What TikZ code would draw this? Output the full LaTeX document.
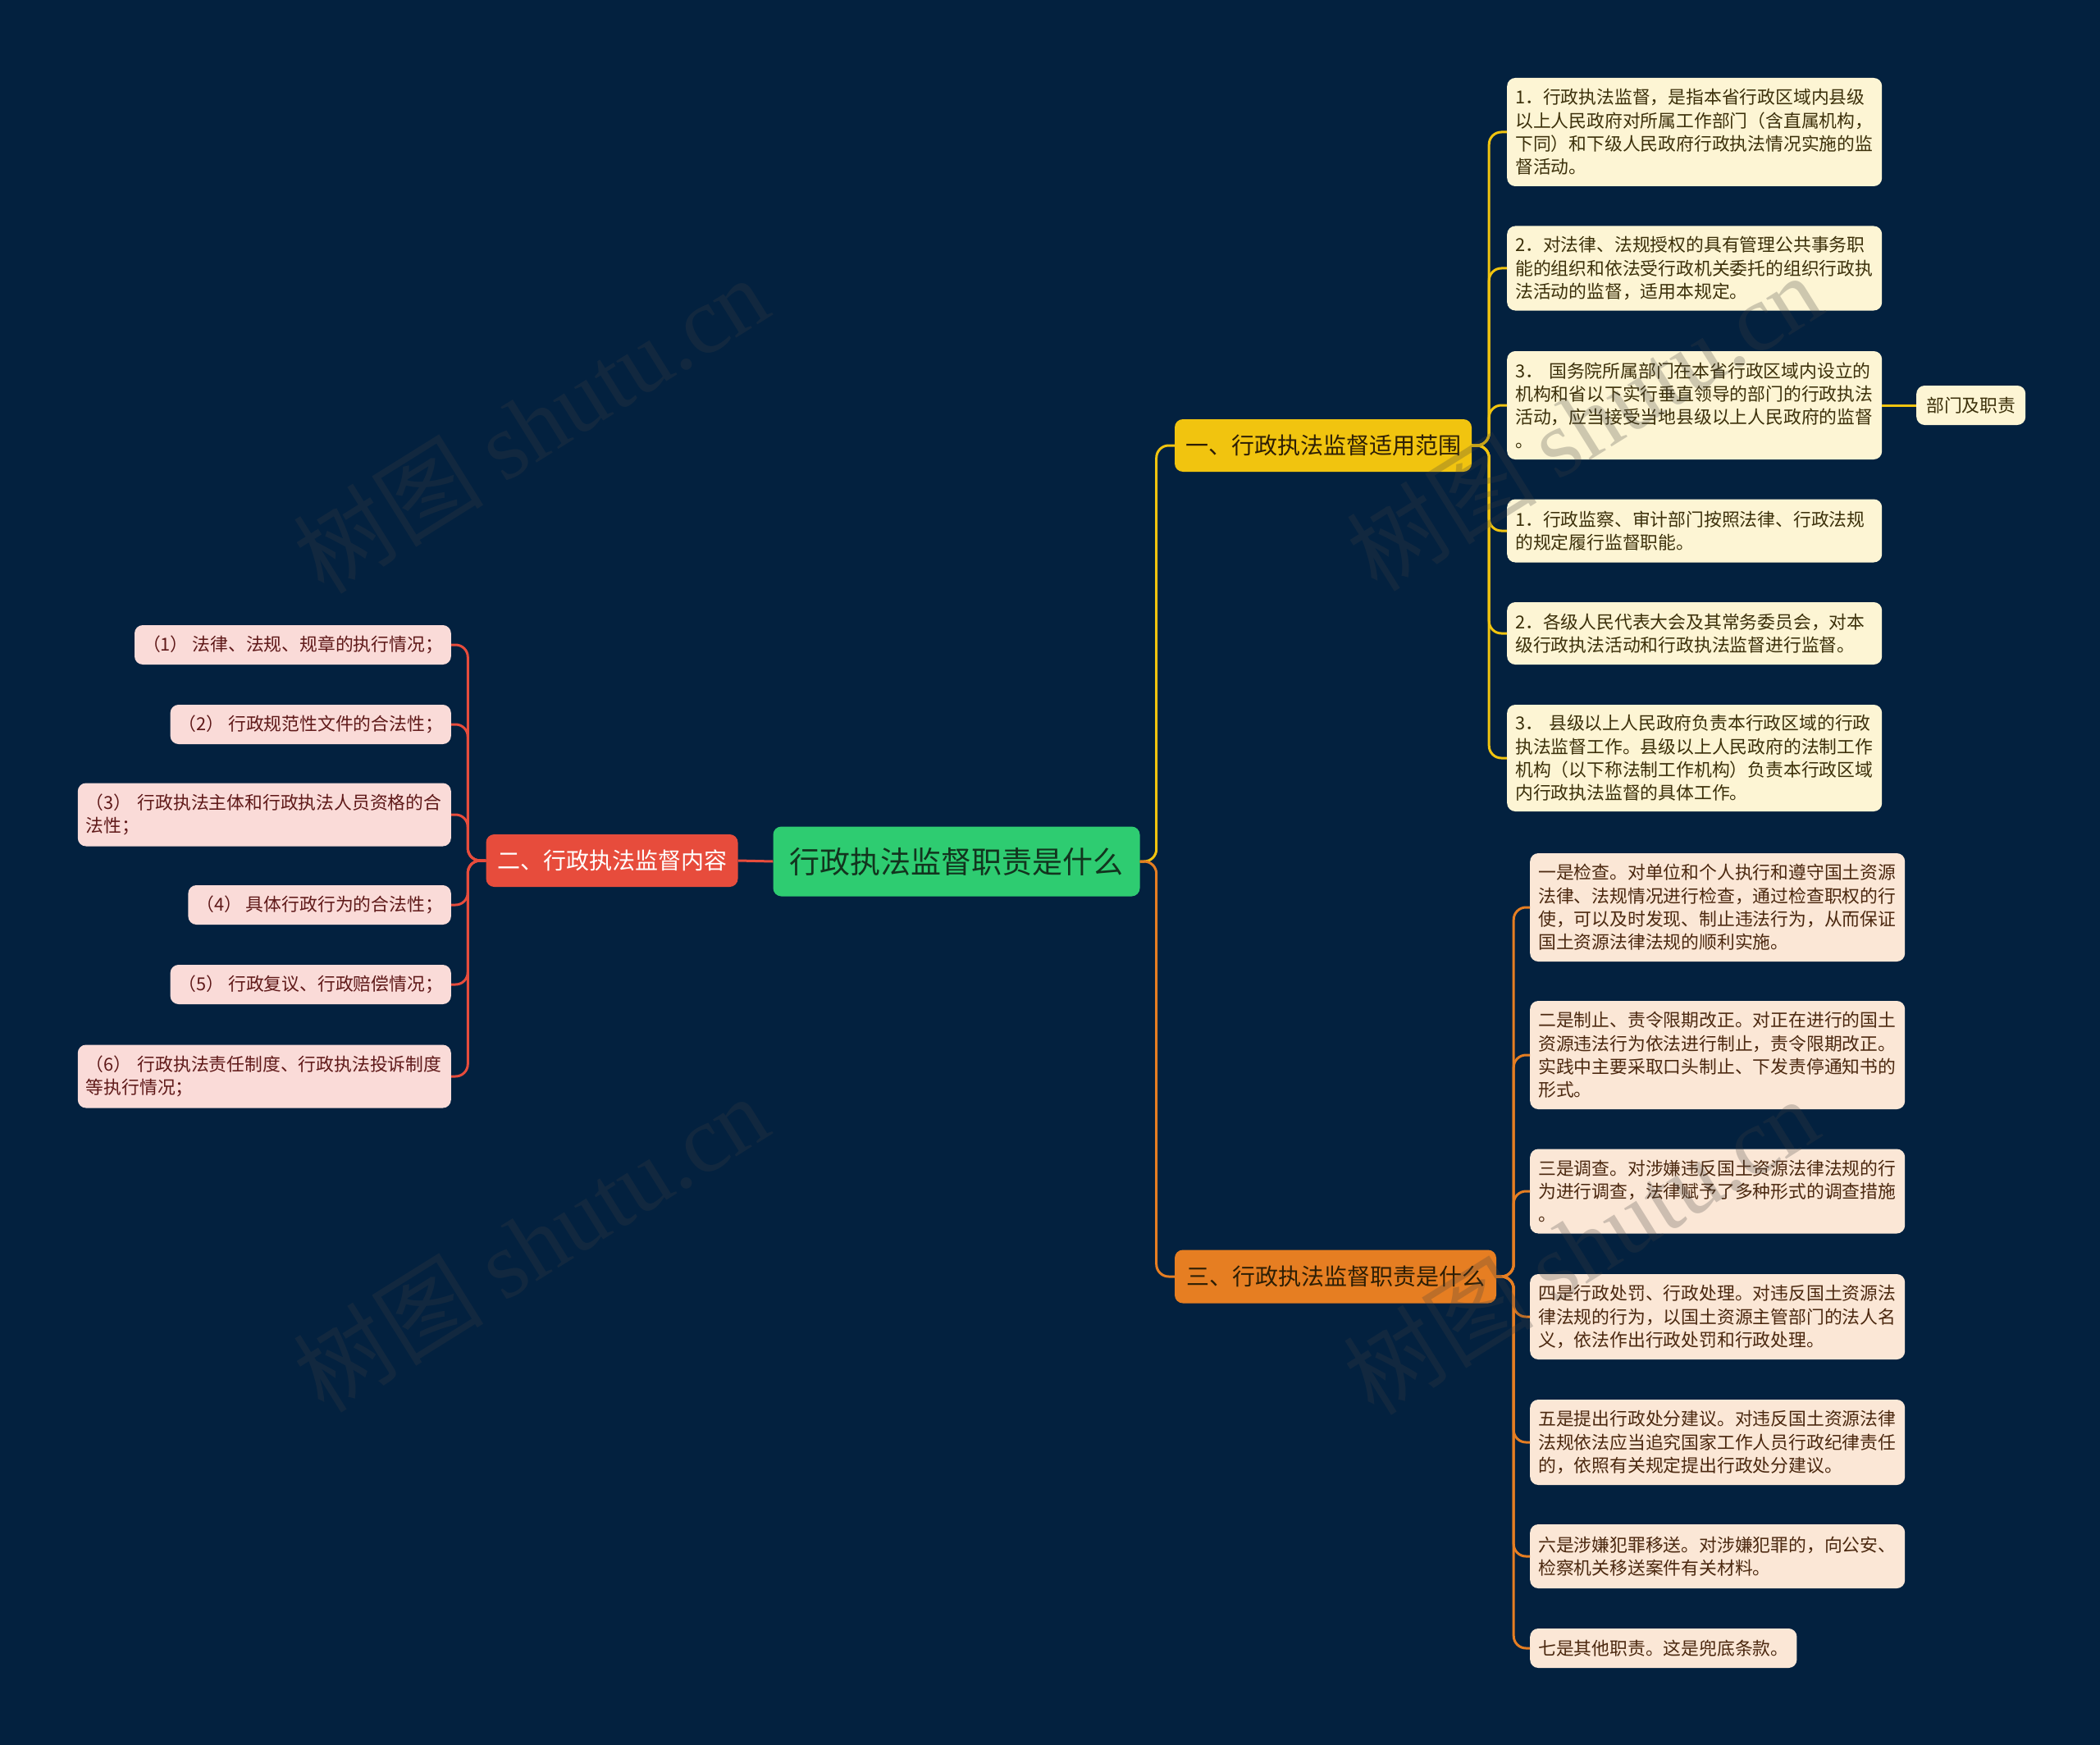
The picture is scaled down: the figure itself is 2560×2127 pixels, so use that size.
\documentclass[tikz,border=0pt]{standalone}
\usepackage{fontspec}
\newfontfamily\cjk{Noto Sans CJK SC}
\newfontfamily\wmserif{Liberation Serif}
\definecolor{bg}{RGB}{3,33,63}
\definecolor{rootc}{RGB}{46,204,113}
\definecolor{roottext}{RGB}{18,52,30}
\definecolor{yel}{RGB}{241,196,15}
\definecolor{ora}{RGB}{230,126,34}
\definecolor{redc}{RGB}{231,76,60}
\definecolor{yleaf}{RGB}{253,245,212}
\definecolor{oleaf}{RGB}{251,231,214}
\definecolor{pleaf}{RGB}{250,219,216}
\definecolor{ytext}{RGB}{60,48,10}
\definecolor{otext}{RGB}{75,40,15}
\definecolor{ptext}{RGB}{95,25,25}
\definecolor{btext}{RGB}{45,30,5}
\definecolor{wmc}{RGB}{64,64,64}
\begin{document}
\begin{tikzpicture}[x=1pt,y=-1pt,
  box/.style={rounded corners=10, inner ysep=0pt, font=\cjk},
  branch/.style={box, font=\cjk\fontsize{28}{34}\selectfont, minimum height=64},
  leaf/.style={box, font=\cjk\fontsize{21.8}{28.3}\selectfont, align=left, inner xsep=10},
  yl/.style={leaf, fill=yleaf, text=ytext, text width=437, anchor=west},
  ol/.style={leaf, fill=oleaf, text=otext, text width=437, anchor=west},
  pl/.style={leaf, fill=pleaf, text=ptext, anchor=east},
  plw/.style={pl, text width=435},
  conn/.style={line width=3, rounded corners=15},
  wm/.style={rotate=32, text=wmc, text opacity=0.25, font=\cjk\fontsize{116}{130}\selectfont}
]
\useasboundingbox (0,0) rectangle (2560,2127);
\fill[bg] (0,0) rectangle (2560,2127);

% root and branches
\node[box, fill=rootc, text=roottext, font=\cjk\fontsize{37}{44}\selectfont, minimum width=447, minimum height=85] (root) at (1166,1050) {行政执法监督职责是什么};
\node[branch, fill=yel, text=btext, minimum width=362] (b1) at (1613,543) {一、行政执法监督适用范围};
\node[branch, fill=ora, text=btext, minimum width=392, minimum height=65] (b3) at (1628,1556) {三、行政执法监督职责是什么};
\node[branch, fill=redc, text=white, minimum width=307] (b2) at (746,1049) {二、行政执法监督内容};

% branch 1 leaves
\node[yl, minimum height=132] (y1) at (1837,161) {1．行政执法监督，是指本省行政区域内县级\\以上人民政府对所属工作部门（含直属机构，\\下同）和下级人民政府行政执法情况实施的监\\督活动。};
\node[yl, minimum height=103] (y2) at (1837,327) {2．对法律、法规授权的具有管理公共事务职\\能的组织和依法受行政机关委托的组织行政执\\法活动的监督，适用本规定。};
\node[yl, minimum height=132] (y3) at (1837,494) {3． 国务院所属部门在本省行政区域内设立的\\机构和省以下实行垂直领导的部门的行政执法\\活动，应当接受当地县级以上人民政府的监督\\。};
\node[leaf, fill=yleaf, text=ytext, inner xsep=12, minimum height=48, anchor=west] (y3a) at (2336,494) {部门及职责};
\node[yl, minimum height=77] (y4) at (1837,647) {1．行政监察、审计部门按照法律、行政法规\\的规定履行监督职能。};
\node[yl, minimum height=76] (y5) at (1837,772) {2．各级人民代表大会及其常务委员会，对本\\级行政执法活动和行政执法监督进行监督。};
\node[yl, minimum height=130] (y6) at (1837,924) {3． 县级以上人民政府负责本行政区域的行政\\执法监督工作。县级以上人民政府的法制工作\\机构（以下称法制工作机构）负责本行政区域\\内行政执法监督的具体工作。};

% branch 3 leaves
\node[ol, minimum height=132] (o1) at (1865,1106) {一是检查。对单位和个人执行和遵守国土资源\\法律、法规情况进行检查，通过检查职权的行\\使，可以及时发现、制止违法行为，从而保证\\国土资源法律法规的顺利实施。};
\node[ol, minimum height=132] (o2) at (1865,1286) {二是制止、责令限期改正。对正在进行的国土\\资源违法行为依法进行制止，责令限期改正。\\实践中主要采取口头制止、下发责停通知书的\\形式。};
\node[ol, minimum height=103] (o3) at (1865,1452) {三是调查。对涉嫌违反国土资源法律法规的行\\为进行调查，法律赋予了多种形式的调查措施\\。};
\node[ol, minimum height=104] (o4) at (1865,1605) {四是行政处罚、行政处理。对违反国土资源法\\律法规的行为，以国土资源主管部门的法人名\\义，依法作出行政处罚和行政处理。};
\node[ol, minimum height=104] (o5) at (1865,1758) {五是提出行政处分建议。对违反国土资源法律\\法规依法应当追究国家工作人员行政纪律责任\\的，依照有关规定提出行政处分建议。};
\node[ol, minimum height=78] (o6) at (1865,1897) {六是涉嫌犯罪移送。对涉嫌犯罪的，向公安、\\检察机关移送案件有关材料。};
\node[leaf, fill=oleaf, text=otext, minimum height=48, anchor=west] (o7) at (1865,2009) {七是其他职责。这是兜底条款。};

% branch 2 leaves
\node[pl, minimum height=48] (p1) at (550,786) {（1） 法律、法规、规章的执行情况；};
\node[pl, minimum height=48] (p2) at (550,883) {（2） 行政规范性文件的合法性；};
\node[plw, minimum height=77] (p3) at (550,993) {（3） 行政执法主体和行政执法人员资格的合\\法性；};
\node[pl, minimum height=48] (p4) at (550,1103) {（4） 具体行政行为的合法性；};
\node[pl, minimum height=48] (p5) at (550,1200) {（5） 行政复议、行政赔偿情况；};
\node[plw, minimum height=77] (p6) at (550,1312) {（6） 行政执法责任制度、行政执法投诉制度\\等执行情况；};

% connectors root
\draw[conn, yel] (root.east) -- ++(20,0) |- (b1.west);
\draw[conn, ora] (root.east) -- ++(20,0) |- (b3.west);
\draw[conn, redc] (root.west) -- (b2.east);

% branch 1 connectors
\foreach \n in {y1,y2,y3,y4,y5,y6}
  \draw[conn, yel] (b1.east) -- ++(21,0) |- (\n.west);
\draw[conn, yel] (y3.east) -- (y3a.west);

% branch 3 connectors
\foreach \n in {o1,o2,o3,o4,o5,o6,o7}
  \draw[conn, ora] (b3.east) -- ++(21,0) |- (\n.west);

% branch 2 connectors
\foreach \n in {p1,p2,p3,p4,p5,p6}
  \draw[conn, redc] (b2.west) -- ++(-22,0) |- (\n.east);

% watermarks
\node[wm] (wm1) at (647,517) {树图 {\wmserif shutu.cn}};
\node[wm] (wm2) at (647,1515) {树图 {\wmserif shutu.cn}};
\node[wm] (wm3) at (1931,514) {树图 {\wmserif shutu.cn}};
\node[wm] (wm4) at (1927,1518) {树图 {\wmserif shutu.cn}};
\end{tikzpicture}
\end{document}
